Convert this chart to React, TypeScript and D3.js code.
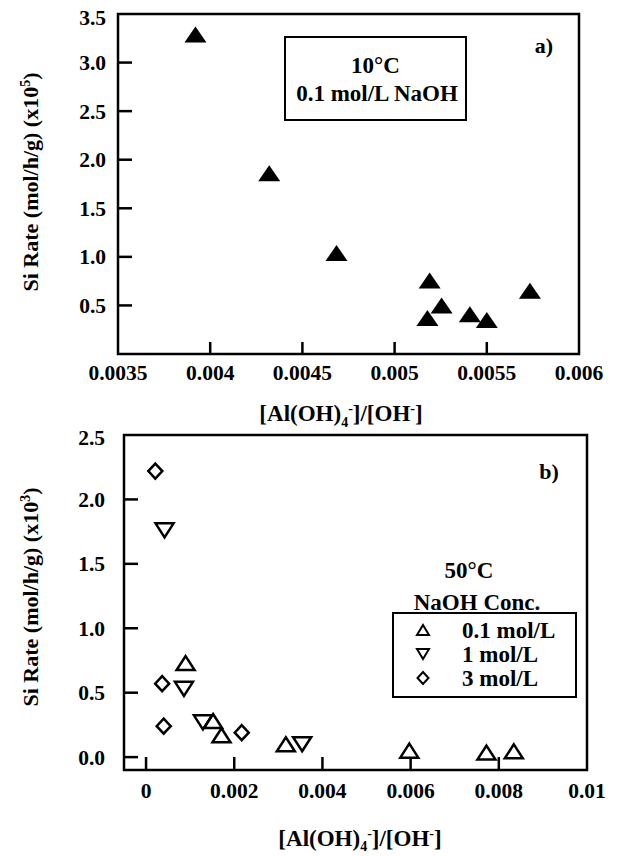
import React from "react";
import * as d3 from "d3";

// Panel a: 10°C, 0.1 mol/L NaOH
const aX = [0.00392, 0.00432, 0.004685, 0.00519, 0.005255, 0.005178, 0.005408, 0.0055, 0.005734];
const aY = [3.29, 1.86, 1.04, 0.757, 0.5, 0.37, 0.41, 0.35, 0.65];
const aXTicks = [0.0035, 0.004, 0.0045, 0.005, 0.0055, 0.006];
const aXTickLabels = ["0.0035", "0.004", "0.0045", "0.005", "0.0055", "0.006"];
const aYTicks = [0.5, 1.0, 1.5, 2.0, 2.5, 3.0, 3.5];

// Panel b: 50°C, NaOH concentrations
const b01X = [0.000897, 0.00152, 0.00171, 0.00317, 0.00597, 0.00772, 0.00834];
const b01Y = [0.73, 0.28, 0.17, 0.1, 0.05, 0.035, 0.045];
const b1X = [0.00042, 0.00086, 0.00129, 0.00354];
const b1Y = [1.76, 0.53, 0.27, 0.1];
const b3X = [0.00021, 0.000365, 0.0004, 0.00217];
const b3Y = [2.22, 0.57, 0.24, 0.19];
const bXTicks = [0, 0.002, 0.004, 0.006, 0.008, 0.01];
const bXTickLabels = ["0", "0.002", "0.004", "0.006", "0.008", "0.01"];
const bYTicks = [0, 0.5, 1.0, 1.5, 2.0, 2.5];
const bLegend = ["0.1 mol/L", "1 mol/L", "3 mol/L"];

const FONT = "'Liberation Serif', 'Times New Roman', serif";

function tri(w: number, h: number, up: boolean) {
  const s = up ? 1 : -1;
  return `M0,${-s * h / 2}L${w / 2},${s * h / 2}L${-w / 2},${s * h / 2}Z`;
}
function diamond(w: number, h: number) {
  return `M0,${-h / 2}L${w / 2},0L0,${h / 2}L${-w / 2},0Z`;
}

export default function App() {
  // panel a scales
  const ax = d3.scaleLinear().domain([0.0035, 0.006]).range([118, 579]);
  const ay = d3.scaleLinear().domain([0, 3.5]).range([354, 14]);
  // panel b scales
  const bx = d3.scaleLinear().domain([-0.0005, 0.01]).range([124, 587]);
  const by = d3.scaleLinear().domain([-0.1, 2.5]).range([770, 435]);

  const tickFs = 21.5;
  const lw = 2.5;

  const yFmt = d3.format(".1f");

  return (
    <svg width={624} height={856} style={{ position: "absolute", left: 0, top: 0, background: "#fff" }}
      fontFamily={FONT} fontWeight="bold">
      <rect x={0} y={0} width={624} height={856} fill="#fff" />
      {/* ---------- Panel a ---------- */}
      <rect x={ax.range()[0]} y={ay.range()[1]} width={ax.range()[1] - ax.range()[0]} height={ay.range()[0] - ay.range()[1]}
        fill="none" stroke="#000" strokeWidth={lw} />
      {aYTicks.map((t) => (
        <g key={"ayt" + t}>
          {t < 3.5 && <line x1={ax.range()[0]} x2={ax.range()[0] + 14} y1={ay(t)} y2={ay(t)} stroke="#000" strokeWidth={lw} />}
          <text x={106} y={ay(t) + (t === 3.5 ? 3 : 0)} dy="0.35em" textAnchor="end" fontSize={tickFs}>{yFmt(t)}</text>
        </g>
      ))}
      {aXTicks.map((t, i) => (
        <g key={"axt" + t}>
          {i > 0 && i < aXTicks.length - 1 && (
            <line x1={ax(t)} x2={ax(t)} y1={ay.range()[0]} y2={ay.range()[0] - 12} stroke="#000" strokeWidth={lw} />
          )}
          <text x={ax(t)} y={372} dy="0.35em" textAnchor="middle" fontSize={tickFs}>{aXTickLabels[i]}</text>
        </g>
      ))}
      {aX.map((x, i) => (
        <path key={"ap" + i} d={tri(22, 16, true)} transform={`translate(${ax(x)},${ay(aY[i])})`} fill="#000" />
      ))}
      {/* legend box a */}
      <rect x={285} y={37} width={181} height={83} fill="#fff" stroke="#000" strokeWidth={2} />
      <text x={375.5} y={65} dy="0.35em" textAnchor="middle" fontSize={23}>10°C</text>
      <text x={377} y={93} dy="0.35em" textAnchor="middle" fontSize={23}>0.1 mol/L NaOH</text>
      <text x={544} y={45} dy="0.35em" textAnchor="middle" fontSize={22}>a)</text>
      {/* axis titles a */}
      <text transform="translate(30,182) rotate(-90)" textAnchor="middle" dy="0.35em" fontSize={22}>
        Si Rate (mol/h/g) (x10<tspan dy="-8" fontSize={14}>5</tspan><tspan dy="8">)</tspan>
      </text>
      <text x={341} y={413} dy="0.35em" textAnchor="middle" fontSize={23}>
        [Al(OH)<tspan dy="6" fontSize={14}>4</tspan><tspan dy="-14" fontSize={14}>-</tspan><tspan dy="8">]/[OH</tspan><tspan dy="-8" fontSize={14}>-</tspan><tspan dy="8">]</tspan>
      </text>

      {/* ---------- Panel b ---------- */}
      <rect x={bx.range()[0]} y={by.range()[1]} width={bx.range()[1] - bx.range()[0]} height={by.range()[0] - by.range()[1]}
        fill="none" stroke="#000" strokeWidth={lw} />
      {bYTicks.map((t) => (
        <g key={"byt" + t}>
          {t < 2.5 && <line x1={bx.range()[0]} x2={bx.range()[0] + 14} y1={by(t)} y2={by(t)} stroke="#000" strokeWidth={lw} />}
          <text x={105} y={by(t) + (t === 2.5 ? 2 : 0)} dy="0.35em" textAnchor="end" fontSize={tickFs}>{yFmt(t)}</text>
        </g>
      ))}
      {bXTicks.map((t, i) => (
        <g key={"bxt" + t}>
          {i < bXTicks.length - 1 && (
            <line x1={bx(t)} x2={bx(t)} y1={by.range()[0]} y2={by.range()[0] - 13} stroke="#000" strokeWidth={lw} />
          )}
          <text x={bx(t)} y={790} dy="0.35em" textAnchor="middle" fontSize={tickFs}>{bXTickLabels[i]}</text>
        </g>
      ))}
      {b01X.map((x, i) => (
        <path key={"b01" + i} d={tri(18, 14, true)} transform={`translate(${bx(x)},${by(b01Y[i])})`}
          fill="none" stroke="#000" strokeWidth={2.5} strokeLinejoin="miter" />
      ))}
      {b1X.map((x, i) => (
        <path key={"b1" + i} d={tri(18, 14, false)} transform={`translate(${bx(x)},${by(b1Y[i])})`}
          fill="none" stroke="#000" strokeWidth={2.5} />
      ))}
      {b3X.map((x, i) => (
        <path key={"b3" + i} d={diamond(14, 15)} transform={`translate(${bx(x)},${by(b3Y[i])})`}
          fill="none" stroke="#000" strokeWidth={2.5} />
      ))}
      {/* legend b */}
      <text x={469} y={570} dy="0.35em" textAnchor="middle" fontSize={23}>50°C</text>
      <text x={477} y={602} dy="0.35em" textAnchor="middle" fontSize={23}>NaOH Conc.</text>
      <rect x={393} y={613} width={183} height={84} fill="none" stroke="#000" strokeWidth={2} />
      {bLegend.map((lab, i) => {
        const yy = [630, 654, 678][i];
        const d = i === 0 ? tri(12, 10, true) : i === 1 ? tri(12, 10, false) : diamond(11, 12);
        return (
          <g key={"bl" + i}>
            <path d={d} transform={`translate(423,${yy})`} fill="none" stroke="#000" strokeWidth={2} />
            <text x={462} y={yy} dy="0.35em" fontSize={23}>{lab}</text>
          </g>
        );
      })}
      <text x={549} y={471} dy="0.35em" textAnchor="middle" fontSize={22}>b)</text>
      {/* axis titles b */}
      <text transform="translate(30,597) rotate(-90)" textAnchor="middle" dy="0.35em" fontSize={22}>
        Si Rate (mol/h/g) (x10<tspan dy="-8" fontSize={14}>3</tspan><tspan dy="8">)</tspan>
      </text>
      <text x={360} y={838} dy="0.35em" textAnchor="middle" fontSize={23}>
        [Al(OH)<tspan dy="5" fontSize={14}>4</tspan><tspan dy="-13" fontSize={14}>-</tspan><tspan dy="8">]/[OH</tspan><tspan dy="-8" fontSize={14}>-</tspan><tspan dy="8">]</tspan>
      </text>
    </svg>
  );
}
